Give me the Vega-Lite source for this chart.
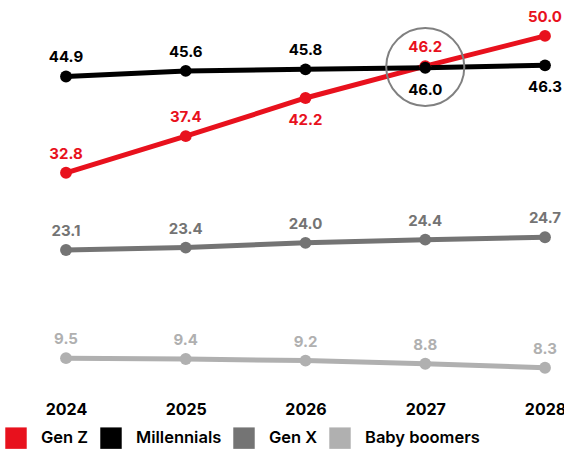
{
  "$schema": "https://vega.github.io/schema/vega-lite/v6.json",
  "autosize": "none",
  "width": 564,
  "height": 374,
  "padding": {"left": 0, "top": 20, "right": 0, "bottom": 57},
  "background": "white",
  "config": {
    "view": {"stroke": null},
    "font": "Inter"
  },
  "data": {
    "values": [
      {"year": "2024", "series": "Gen Z", "value": 32.8},
      {"year": "2025", "series": "Gen Z", "value": 37.4},
      {"year": "2026", "series": "Gen Z", "value": 42.2},
      {"year": "2027", "series": "Gen Z", "value": 46.2},
      {"year": "2028", "series": "Gen Z", "value": 50.0},
      {"year": "2024", "series": "Millennials", "value": 44.9},
      {"year": "2025", "series": "Millennials", "value": 45.6},
      {"year": "2026", "series": "Millennials", "value": 45.8},
      {"year": "2027", "series": "Millennials", "value": 46.0},
      {"year": "2028", "series": "Millennials", "value": 46.3},
      {"year": "2024", "series": "Gen X", "value": 23.1},
      {"year": "2025", "series": "Gen X", "value": 23.4},
      {"year": "2026", "series": "Gen X", "value": 24.0},
      {"year": "2027", "series": "Gen X", "value": 24.4},
      {"year": "2028", "series": "Gen X", "value": 24.7},
      {"year": "2024", "series": "Baby boomers", "value": 9.5},
      {"year": "2025", "series": "Baby boomers", "value": 9.4},
      {"year": "2026", "series": "Baby boomers", "value": 9.2},
      {"year": "2027", "series": "Baby boomers", "value": 8.8},
      {"year": "2028", "series": "Baby boomers", "value": 8.3}
    ]
  },
  "encoding": {
    "x": {
      "field": "year", "type": "ordinal",
      "scale": {"type": "point", "range": [66, 545], "padding": 0},
      "axis": {
        "title": null, "domain": false, "ticks": false, "grid": false,
        "labelAngle": 0, "labelFontSize": 16, "labelFontWeight": 700,
        "labelColor": "#000000", "labelPadding": 7, "labelFont": "Inter"
      }
    },
    "y": {
      "field": "value", "type": "quantitative",
      "scale": {"domain": [5, 52], "nice": false, "zero": false},
      "axis": null
    },
    "color": {
      "field": "series", "type": "nominal",
      "scale": {
        "domain": ["Gen Z", "Millennials", "Gen X", "Baby boomers"],
        "range": ["#e8111d", "#000000", "#747474", "#b0b0b0"]
      },
      "legend": {
        "title": null, "orient": "none", "legendX": 5, "legendY": 407,
        "direction": "horizontal", "symbolType": "square", "symbolSize": 460,
        "symbolStrokeWidth": 0, "symbolOpacity": 1,
        "labelFontSize": 16.5, "labelFontWeight": 600, "labelColor": "#000000",
        "labelFont": "Inter", "labelOffset": 14, "columnPadding": 11
      }
    }
  },
  "layer": [
    {
      "mark": {"type": "line", "strokeWidth": 5}
    },
    {
      "mark": {"type": "point", "filled": true, "size": 140, "opacity": 1}
    },
    {
      "transform": [
        {"filter": "!((datum.series == 'Millennials' && (datum.year == '2027' || datum.year == '2028')) || (datum.series == 'Gen Z' && datum.year == '2026'))"}
      ],
      "mark": {"type": "text", "dy": -19, "fontSize": 15, "fontWeight": 700, "font": "Inter"},
      "encoding": {"text": {"field": "value", "type": "quantitative", "format": ".1f"}}
    },
    {
      "transform": [
        {"filter": "(datum.series == 'Millennials' && (datum.year == '2027' || datum.year == '2028')) || (datum.series == 'Gen Z' && datum.year == '2026')"}
      ],
      "mark": {"type": "text", "dy": 22, "fontSize": 15, "fontWeight": 700, "font": "Inter"},
      "encoding": {"text": {"field": "value", "type": "quantitative", "format": ".1f"}}
    },
    {
      "data": {"values": [{"year": "2027", "value": 46.1}]},
      "mark": {"type": "point", "shape": "circle", "size": 6100, "filled": false, "stroke": "#808080", "strokeWidth": 2, "opacity": 1},
      "encoding": {"color": {"value": "#808080"}}
    }
  ]
}
